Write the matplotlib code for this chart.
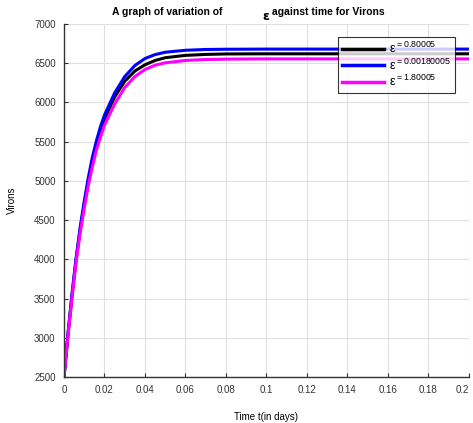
import matplotlib
matplotlib.use("Agg")
import matplotlib.pyplot as plt
from matplotlib.lines import Line2D

# time points (days) and estimated virion counts
t = [0, 0.002, 0.004, 0.006, 0.008, 0.010, 0.012, 0.014, 0.016, 0.018, 0.020,
     0.025, 0.030, 0.035, 0.040, 0.045, 0.050, 0.060, 0.070, 0.080, 0.10, 0.15, 0.20]
v_black = [2500, 3050, 3550, 4000, 4380, 4700, 5000, 5250, 5460, 5640, 5790,
           6070, 6270, 6400, 6480, 6535, 6570, 6600, 6612, 6618, 6620, 6620, 6620]
v_blue = [2500, 3060, 3570, 4020, 4410, 4740, 5040, 5300, 5510, 5690, 5840,
          6120, 6330, 6470, 6560, 6610, 6640, 6665, 6675, 6678, 6680, 6680, 6680]
v_magenta = [2500, 3030, 3520, 3970, 4340, 4650, 4940, 5180, 5390, 5560, 5710,
             5980, 6190, 6330, 6420, 6475, 6505, 6535, 6547, 6552, 6555, 6555, 6555]

labels = ["0.80005", "0.00180005", "1.80005"]
colors = ["black", "blue", "magenta"]

xticks = [0, 0.02, 0.04, 0.06, 0.08, 0.1, 0.12, 0.14, 0.16, 0.18, 0.2]
xtick_labels = ["0", "0.02", "0.04", "0.06", "0.08", "0.1", "0.12", "0.14", "0.16", "0.18", "0.2"]
yticks = [2500, 3000, 3500, 4000, 4500, 5000, 5500, 6000, 6500, 7000]

plt.rcParams["font.family"] = ["Liberation Sans", "DejaVu Sans"]
plt.rcParams["mathtext.fontset"] = "custom"
plt.rcParams["mathtext.rm"] = "Liberation Sans"
plt.rcParams["mathtext.it"] = "Liberation Sans"

fig = plt.figure(figsize=(4.73, 4.23), dpi=100)
ax = fig.add_axes([0.1353, 0.1087, 0.8562, 0.8346])

for series, c in zip([v_black, v_blue, v_magenta], colors):
    ax.plot(t, series, color=c, linewidth=2.2)

ax.set_xlim(0, 0.2)
ax.set_ylim(2500, 7000)
ax.set_xticks(xticks)
ax.set_xticklabels(xtick_labels)
ax.set_yticks(yticks)
ax.tick_params(direction="in", length=3, labelsize=7, colors="#333333", pad=6)
ax.get_xticklabels()[-1].set_horizontalalignment("right")
ax.grid(True, color="#e0e0e0", linewidth=0.8)
ax.set_axisbelow(True)
for s in ["top", "right"]:
    ax.spines[s].set_visible(False)
for s in ["left", "bottom"]:
    ax.spines[s].set_color("#333333")
    ax.spines[s].set_linewidth(1.0)

ax.set_xlabel("Time t(in days)", fontsize=7, labelpad=12)
ax.set_ylabel("Virons", fontsize=7, labelpad=12)

# title with epsilon set apart and lowered
fig.text(0.237, 0.972, "A graph of variation of", fontsize=7.5, fontweight="bold",
         ha="left", va="center")
fig.text(0.561, 0.962, "\u03b5", fontsize=9, fontweight="bold",
         family="DejaVu Sans", ha="center", va="center")
fig.text(0.575, 0.972, "against time for Virons", fontsize=7.5, fontweight="bold",
         ha="left", va="center")

handles = [Line2D([0], [0], color=c, linewidth=2.5) for c in colors]
leg_labels = [r"$\epsilon^{\mathrm{{=}" + lab + "}}$" for lab in labels]
leg = ax.legend(handles, leg_labels, loc="upper left",
                bbox_to_anchor=(338 / 473, 1 - 37 / 423), bbox_transform=fig.transFigure,
                fontsize=9, handlelength=3.4, frameon=True, fancybox=False,
                borderpad=0.3, labelspacing=0.12, handletextpad=0.4, borderaxespad=0)
leg.get_frame().set_edgecolor("black")
leg.get_frame().set_linewidth(0.8)

fig.savefig("out.png", dpi=100)
